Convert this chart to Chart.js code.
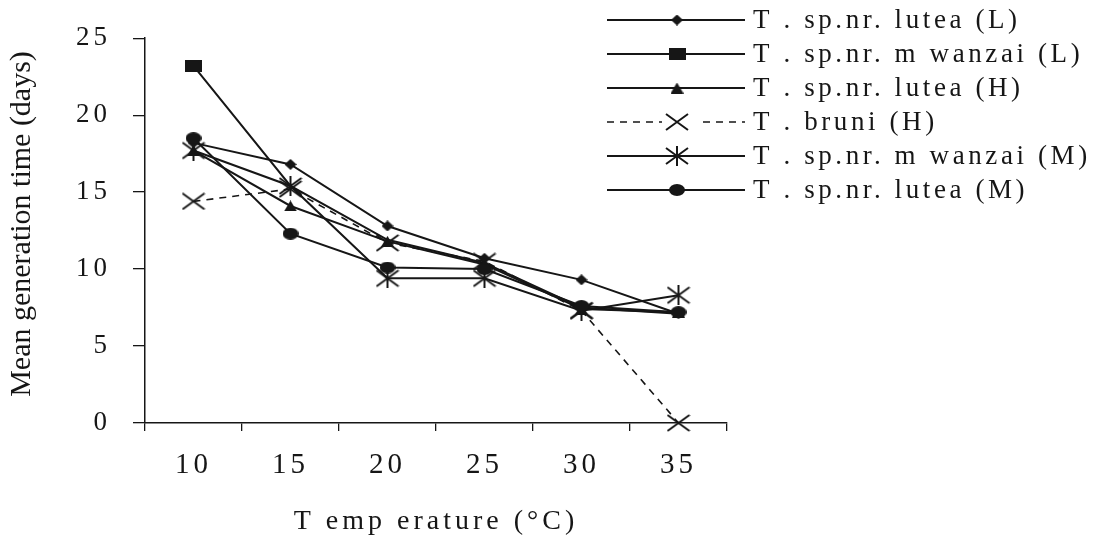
<!DOCTYPE html>
<html>
<head>
<meta charset="utf-8">
<script src="https://cdn.jsdelivr.net/npm/chart.js@4.4.0/dist/chart.umd.min.js"></script>
<style>
  html, body { margin: 0; padding: 0; background: #fff; }
  #wrap { width: 1106px; height: 543px; }
</style>
</head>
<body>
<div id="wrap"><canvas id="chart" width="1106" height="543"></canvas></div>
<script>
// categories (temperature, °C)
const temps = ['10', '15', '20', '25', '30', '35'];

// mean generation time (days)
const luteaL   = [18.2, 16.8, 12.8, 10.7, 9.3, 7.1];
const mwanzaiL = [23.2, 15.4, 11.9, 10.4, 7.5, 7.1];
const luteaH   = [17.7, 14.1, 11.8, 10.3, 7.4, 7.2];
const bruniH   = [14.4, 15.2, 11.7, 10.5, 7.3, 0];
const mwanzaiM = [17.7, 15.4, 9.4, 9.4, 7.3, 8.3];
const luteaM   = [18.5, 12.3, 10.1, 10.0, 7.6, 7.2];

const names = [
  'T . sp.nr. lutea (L)',
  'T . sp.nr. m wanzai (L)',
  'T . sp.nr. lutea (H)',
  'T . bruni (H)',
  'T . sp.nr. m wanzai (M)',
  'T . sp.nr. lutea (M)'
];

const INK = '#161616';
const SERIF = '"Liberation Serif", "Times New Roman", serif';

// small canvases used as point styles
function marker(w, h, paint) {
  const c = document.createElement('canvas');
  c.width = w; c.height = h;
  const g = c.getContext('2d');
  g.fillStyle = INK; g.strokeStyle = INK; g.lineWidth = 2;
  paint(g, w, h);
  return c;
}
const mDiamond = marker(12, 11, (g, w, h) => {
  g.beginPath(); g.moveTo(w / 2, 0); g.lineTo(w, h / 2); g.lineTo(w / 2, h); g.lineTo(0, h / 2); g.closePath(); g.fill();
});
const mSquare = marker(17, 12, (g, w, h) => { g.fillRect(0, 0, w, h); });
const mTriangle = marker(13, 11, (g, w, h) => {
  g.beginPath(); g.moveTo(w / 2, 0); g.lineTo(w, h); g.lineTo(0, h); g.closePath(); g.fill();
});
const mCross = marker(24, 18, (g, w, h) => {
  g.beginPath(); g.moveTo(1, 1); g.lineTo(w - 1, h - 1); g.moveTo(w - 1, 1); g.lineTo(1, h - 1); g.stroke();
});
const mStar = marker(24, 20, (g, w, h) => {
  g.beginPath(); g.moveTo(1, 2); g.lineTo(w - 1, h - 2); g.moveTo(w - 1, 2); g.lineTo(1, h - 2);
  g.moveTo(w / 2, 0); g.lineTo(w / 2, h); g.stroke();
});
const mCircle = marker(16, 12, (g, w, h) => {
  g.beginPath(); g.ellipse(w / 2, h / 2, w / 2, h / 2, 0, 0, Math.PI * 2); g.fill();
});

const markers = [mDiamond, mSquare, mTriangle, mCross, mStar, mCircle];
const values = [luteaL, mwanzaiL, luteaH, bruniH, mwanzaiM, luteaM];
const dashes = [[], [], [], [7, 6], [], []];
// drawing order: lower number is drawn on top
const orders = [1, 5, 4, 3, 2, 0];
// the square markers are hidden under the other series after 10 °C
const radii = [8, [8, 0, 0, 0, 0, 0], 8, 8, 8, 8];

const datasets = values.map((v, i) => ({
  label: names[i],
  data: v,
  order: orders[i],
  borderColor: INK,
  borderWidth: i === 3 ? 1.6 : 2,
  borderDash: dashes[i],
  pointStyle: markers[i],
  pointRadius: radii[i],
  tension: 0,
  fill: false,
  clip: false
}));

const textPlugin = {
  id: 'textPlugin',
  beforeDraw(chart) {
    chart.ctx.letterSpacing = '4px';
  },
  afterDraw(chart) {
    const ctx = chart.ctx;
    ctx.save();
    ctx.letterSpacing = '0px';
    ctx.fillStyle = INK;

    // y axis title
    ctx.save();
    ctx.translate(22, 224);
    ctx.rotate(-Math.PI / 2);
    ctx.font = '30px ' + SERIF;
    ctx.textAlign = 'center';
    ctx.textBaseline = 'middle';
    ctx.fillText('Mean generation time (days)', 0, 0);
    ctx.restore();

    // legend
    ctx.font = '27px ' + SERIF;
    ctx.letterSpacing = '3.6px';
    ctx.textAlign = 'left';
    ctx.textBaseline = 'middle';
    names.forEach((name, i) => {
      const ds = chart.data.datasets[i];
      const y = 20 + i * 34;
      ctx.strokeStyle = INK;
      ctx.lineWidth = ds.borderWidth;
      ctx.setLineDash(ds.borderDash);
      ctx.beginPath();
      if (ds.borderDash.length) {
        ctx.moveTo(607, y); ctx.lineTo(662, y);
        ctx.moveTo(703, y); ctx.lineTo(745, y);
      } else {
        ctx.moveTo(607, y); ctx.lineTo(745, y);
      }
      ctx.stroke();
      ctx.setLineDash([]);
      const m = ds.pointStyle;
      ctx.drawImage(m, 677 - m.width / 2, y - m.height / 2);
      ctx.fillText(name, 753, y + 1);
    });
    ctx.restore();
  }
};

new Chart(document.getElementById('chart'), {
  type: 'line',
  data: { labels: temps, datasets: datasets },
  plugins: [textPlugin],
  options: {
    responsive: false,
    animation: false,
    layout: { padding: { top: 37, right: 379, left: 0, bottom: 0 } },
    plugins: { legend: { display: false }, tooltip: { enabled: false } },
    scales: {
      x: {
        type: 'category',
        offset: true,
        grid: { offset: true, drawOnChartArea: false, drawTicks: true, tickLength: 8, color: INK, lineWidth: 1.3 },
        border: { display: true, color: INK, width: 1.5 },
        ticks: { color: INK, font: { family: SERIF, size: 29 }, padding: 17, maxRotation: 0, autoSkip: false },
        title: { display: true, text: 'T emp erature (°C)', color: INK, font: { family: SERIF, size: 28 }, padding: { top: 0, bottom: 5 } },
        afterFit: s => { s.height = 120; }
      },
      y: {
        min: 0,
        max: 25,
        grid: { drawOnChartArea: false, drawTicks: true, tickLength: 12, color: INK, lineWidth: 1.3 },
        border: { display: true, color: INK, width: 1.5 },
        ticks: { stepSize: 5, color: INK, font: { family: SERIF, size: 27 }, padding: 22 },
        afterFit: s => { s.width = 145; }
      }
    }
  }
});
</script>
</body>
</html>
